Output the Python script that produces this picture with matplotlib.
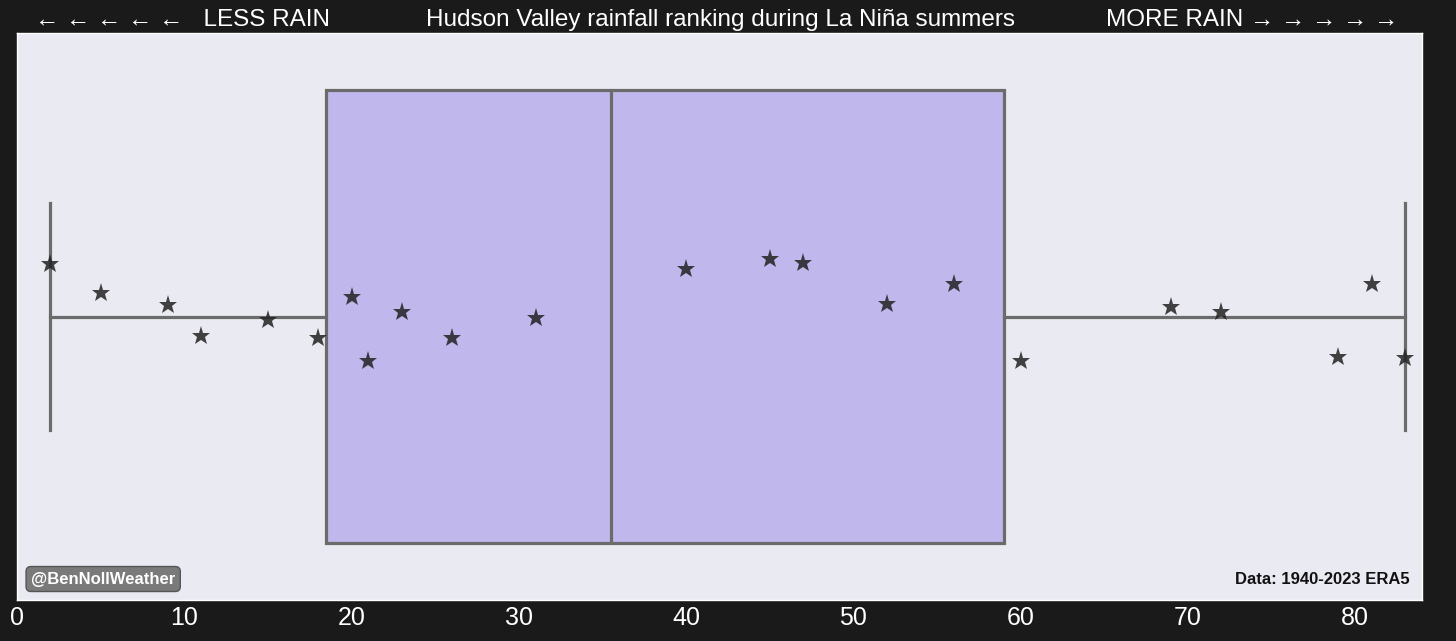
import numpy as np
import matplotlib.pyplot as plt

# rainfall rank (1 = driest) of La Nina summers
ranks = [2, 5, 9, 11, 15, 18, 20, 21, 23, 26, 31, 40, 45, 47, 52, 56, 60, 69, 72, 79, 81, 83]
# vertical jitter of each star
jitter = [0.093, 0.041, 0.020, -0.034, -0.006, -0.038, 0.034, -0.078, 0.008, -0.038, -0.003,
          0.084, 0.101, 0.094, 0.022, 0.057, -0.078, 0.017, 0.008, -0.071, 0.057, -0.073]
xticks = [0, 10, 20, 30, 40, 50, 60, 70, 80]

plt.rcParams['font.family'] = ['Liberation Sans', 'DejaVu Sans']

bg = '#1a1a1a'
fig = plt.figure(figsize=(14.56, 6.41), dpi=100, facecolor=bg)
ax = fig.add_axes([17/1456, 41/641, (1422-17)/1456, (600-33)/641])
ax.set_facecolor('#eaeaf2')

edge = '#6b6b6b'
ax.boxplot(ranks, orientation='horizontal', positions=[0], widths=0.8, whis=1.5,
           patch_artist=True, showfliers=False, capwidths=0.4,
           boxprops=dict(facecolor='#c0b8ec', edgecolor=edge, linewidth=2.3),
           medianprops=dict(color=edge, linewidth=2.3),
           whiskerprops=dict(color=edge, linewidth=2.3),
           capprops=dict(color=edge, linewidth=2.3))

ax.plot(ranks, jitter, linestyle='none', marker='*', markersize=14,
        color='#222222', alpha=0.85, markeredgewidth=0, zorder=5)

ax.set_xlim(0, 84)
ax.set_ylim(-0.5, 0.5)
ax.set_xticks(xticks)
ax.set_xticklabels([str(t) for t in xticks])
ax.tick_params(axis='x', colors='white', labelsize=18, length=0, pad=4)
ax.set_yticks([])
for s in ax.spines.values():
    s.set_color('white')
    s.set_linewidth(1)

fig.text(35/1456, 1 - 20/641, '\u2190 \u2190 \u2190 \u2190 \u2190   LESS RAIN', color='white',
         fontsize=17.5, ha='left', va='center')
fig.text(721/1456, 1 - 20/641, 'Hudson Valley rainfall ranking during La Niña summers',
         color='white', fontsize=17.5, ha='center', va='center')
fig.text(1398/1456, 1 - 20/641, 'MORE RAIN \u2192 \u2192 \u2192 \u2192 \u2192', color='white',
         fontsize=17.5, ha='right', va='center')

ax.text(0.01, 0.037, '@BenNollWeather', transform=ax.transAxes, color='white',
        fontsize=12, fontweight='bold', ha='left', va='center',
        bbox=dict(boxstyle='round,pad=0.3', facecolor='#7a7a7a', edgecolor='#555555'))
ax.text(0.9915, 0.037, 'Data: 1940-2023 ERA5', transform=ax.transAxes, color='#111111',
        fontsize=12, fontweight='bold', ha='right', va='center')

fig.savefig('out.png', dpi=100, facecolor=bg)
